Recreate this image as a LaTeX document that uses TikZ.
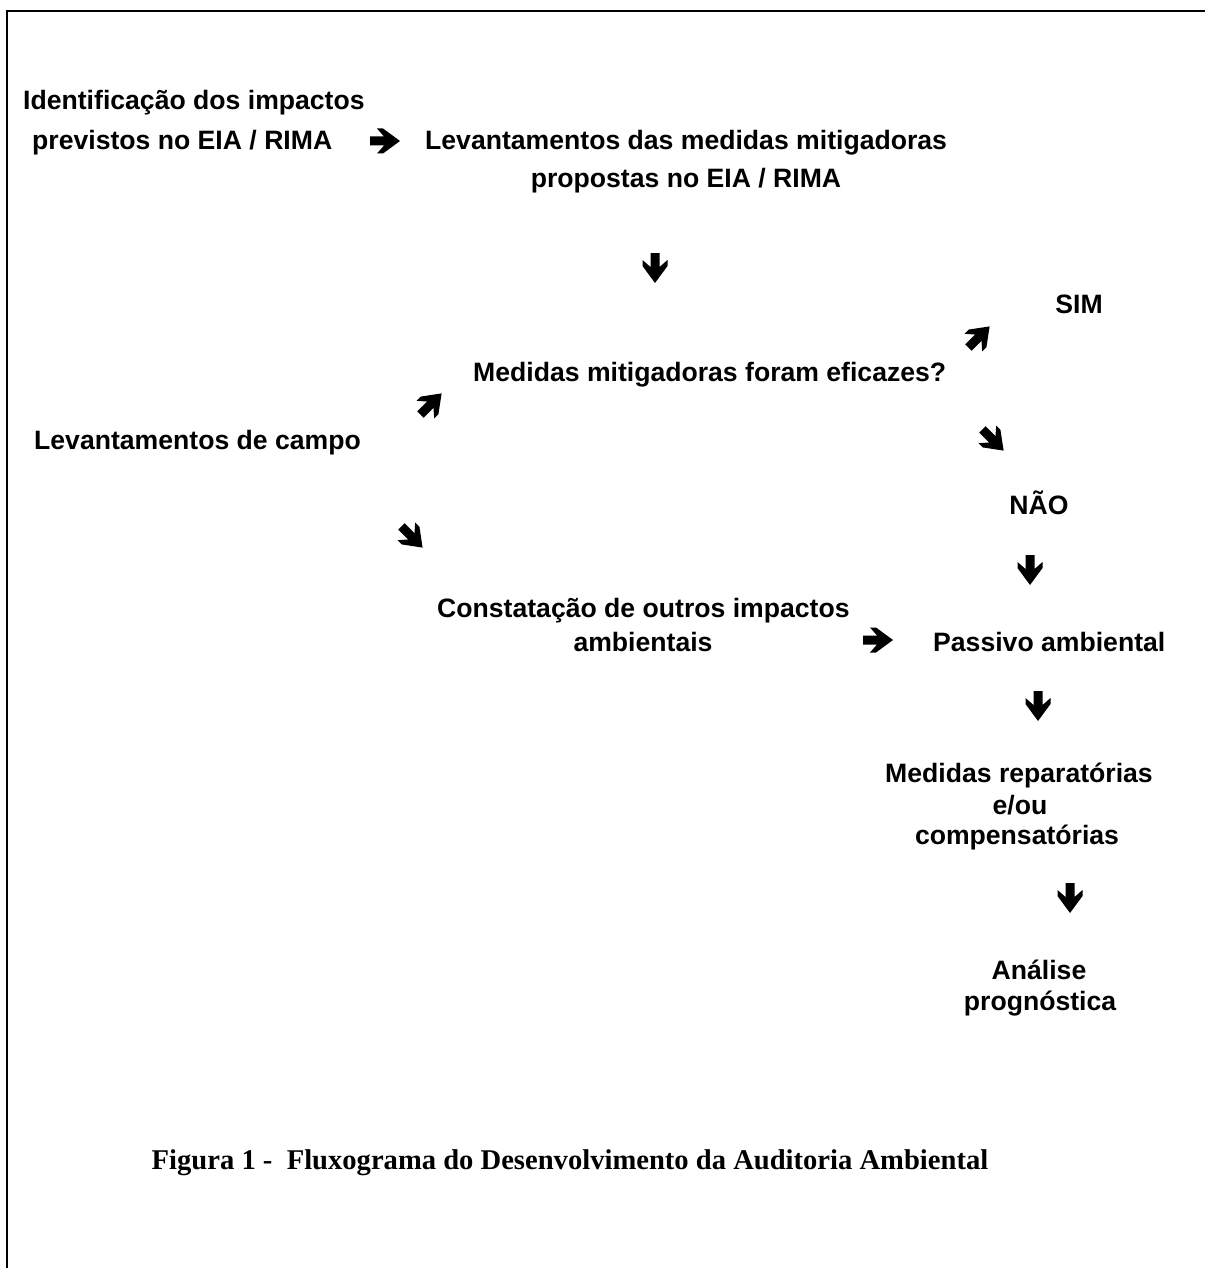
\documentclass[tikz,border=0pt]{standalone}
\usepackage{fontspec}
\setmainfont{Liberation Sans}
\newfontfamily\capfont{Liberation Serif}
\begin{document}
\begin{tikzpicture}[x=1pt,y=-1pt,
  lbl/.style={inner sep=0pt, anchor=base, font=\fontsize{26.6}{32}\selectfont\bfseries},
  lblw/.style={lbl, anchor=base west},
  captxt/.style={inner sep=0pt, anchor=base, font=\fontsize{28.6}{34}\selectfont\capfont\bfseries},
  arr/.pic={\fill (-15,-4.5) -- (-1,-4.5) -- (-8,-12.5) -- (-2,-12.5) -- (15,0) -- (-2,12.5) -- (-8,12.5) -- (-1,4.5) -- (-15,4.5) -- cycle;},
  framelines/.style={line width=2.5pt}]
\useasboundingbox (0,0) rectangle (1205,1268);
\draw[framelines] (7,1268) -- (7,11) -- (1205,11);

% texts
\node[lblw] (id1) at (23,110) {Identificação dos impactos};
\node[lblw] (id2) at (32,150) {previstos no EIA / RIMA};
\node[lblw] (lev1) at (425,150) {Levantamentos das medidas mitigadoras};
\node[lbl] (lev2) at (686,187) {propostas no EIA / RIMA};
\node[lbl] (sim) at (1079,313) {SIM};
\node[lblw] (med) at (473,381) {Medidas mitigadoras foram eficazes?};
\node[lblw] (campo) at (34,449) {Levantamentos de campo};
\node[lbl] (nao) at (1039,514) {NÃO};
\node[lblw] (con1) at (437,617) {Constatação de outros impactos};
\node[lbl] (con2) at (643,651) {ambientais};
\node[lblw] (pas) at (933,651) {Passivo ambiental};
\node[lbl] (rep1) at (1019,782) {Medidas reparatórias};
\node[lbl] (rep2) at (1020,814) {e/ou};
\node[lbl] (rep3) at (1017,844) {compensatórias};
\node[lbl] (ana1) at (1039,979) {Análise};
\node[lbl] (ana2) at (1040,1010) {prognóstica};
\node[captxt] (fig) at (570,1169) {Figura 1 -\ \ Fluxograma do Desenvolvimento da Auditoria Ambiental};

% arrow glyphs
\pic (a1) at (385,141) {arr};
\pic[rotate=-90] (a2) at (655,268) {arr};
\pic[rotate=45] (a3) at (979,337) {arr};
\pic[rotate=45] (a4) at (431,404) {arr};
\pic[rotate=-45] (a5) at (993,440) {arr};
\pic[rotate=-45] (a6) at (412,537) {arr};
\pic[rotate=-90] (a7) at (1030,570) {arr};
\pic (a8) at (878,640) {arr};
\pic[rotate=-90] (a9) at (1038,706) {arr};
\pic[rotate=-90] (a10) at (1070,898) {arr};
\end{tikzpicture}
\end{document}
